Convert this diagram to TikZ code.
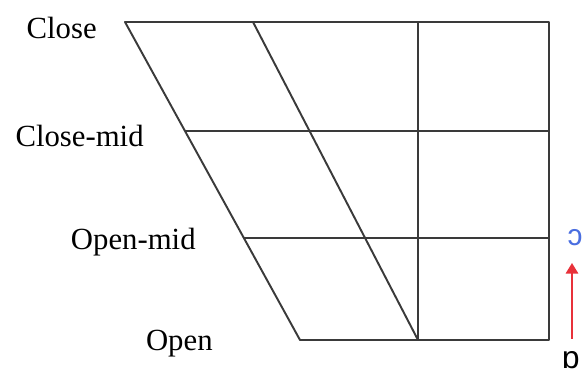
\documentclass[tikz,border=0pt]{standalone}
\usepackage{fontspec}
\setmainfont{Liberation Serif}
\newfontfamily\ipafont{Liberation Sans}
\usetikzlibrary{arrows.meta}
\definecolor{gridgray}{HTML}{3A3A3A}
\definecolor{vowelblue}{HTML}{4A6EE0}
\definecolor{arrowred}{HTML}{E8313A}
\begin{document}
\begin{tikzpicture}[
    x=0.02cm, y=-0.02cm,
    grid/.style={draw=gridgray, line width=1.1pt, line join=round},
    height/.style={anchor=east, inner sep=0pt, font=\fontsize{17.5}{20}\selectfont},
    vowel/.style={inner sep=0pt, font=\ipafont\fontsize{17}{20}\selectfont},
  ]
    \useasboundingbox (0,0) rectangle (583,374);
    % corners of the quadrilateral
    \coordinate (tl) at (125,22);
    \coordinate (tr) at (549,22);
    \coordinate (bl) at (300,340);
    \coordinate (br) at (549,340);
    \coordinate (tm) at (253,22);
    \coordinate (bm) at (418,340);
    \coordinate (tc) at (418,22);
    \coordinate (cml) at (185,131);
    \coordinate (cmr) at (549,131);
    \coordinate (oml) at (244,238);
    \coordinate (omr) at (549,238);
    \draw[grid] (tl) -- (tr) -- (br) -- (bl) -- cycle;
    \draw[grid] (tm) -- (bm);
    \draw[grid] (tc) -- (bm);
    \draw[grid] (cml) -- (cmr);
    \draw[grid] (oml) -- (omr);
    % vowel heights
    \node[height] (close) at (97,28) {Close};
    \node[height] (closemid) at (144,136) {Close-mid};
    \node[height] (openmid) at (196,242) {Open-mid};
    \node[height] (open) at (213,344) {Open};
    % rounded back vowels
    \node[vowel, text=vowelblue] (oo) at (575,238) {ɔ};
    \node[vowel, font=\ipafont\fontsize{18}{20}\selectfont] (ao) at (571,360) {ɒ};
    \coordinate (a0) at (572,339);
    \coordinate (a1) at (572,263);
    \draw[arrowred, line width=1.1pt, -{Triangle[length=6pt, width=7pt]}] (a0) -- (a1);
\end{tikzpicture}
\end{document}
